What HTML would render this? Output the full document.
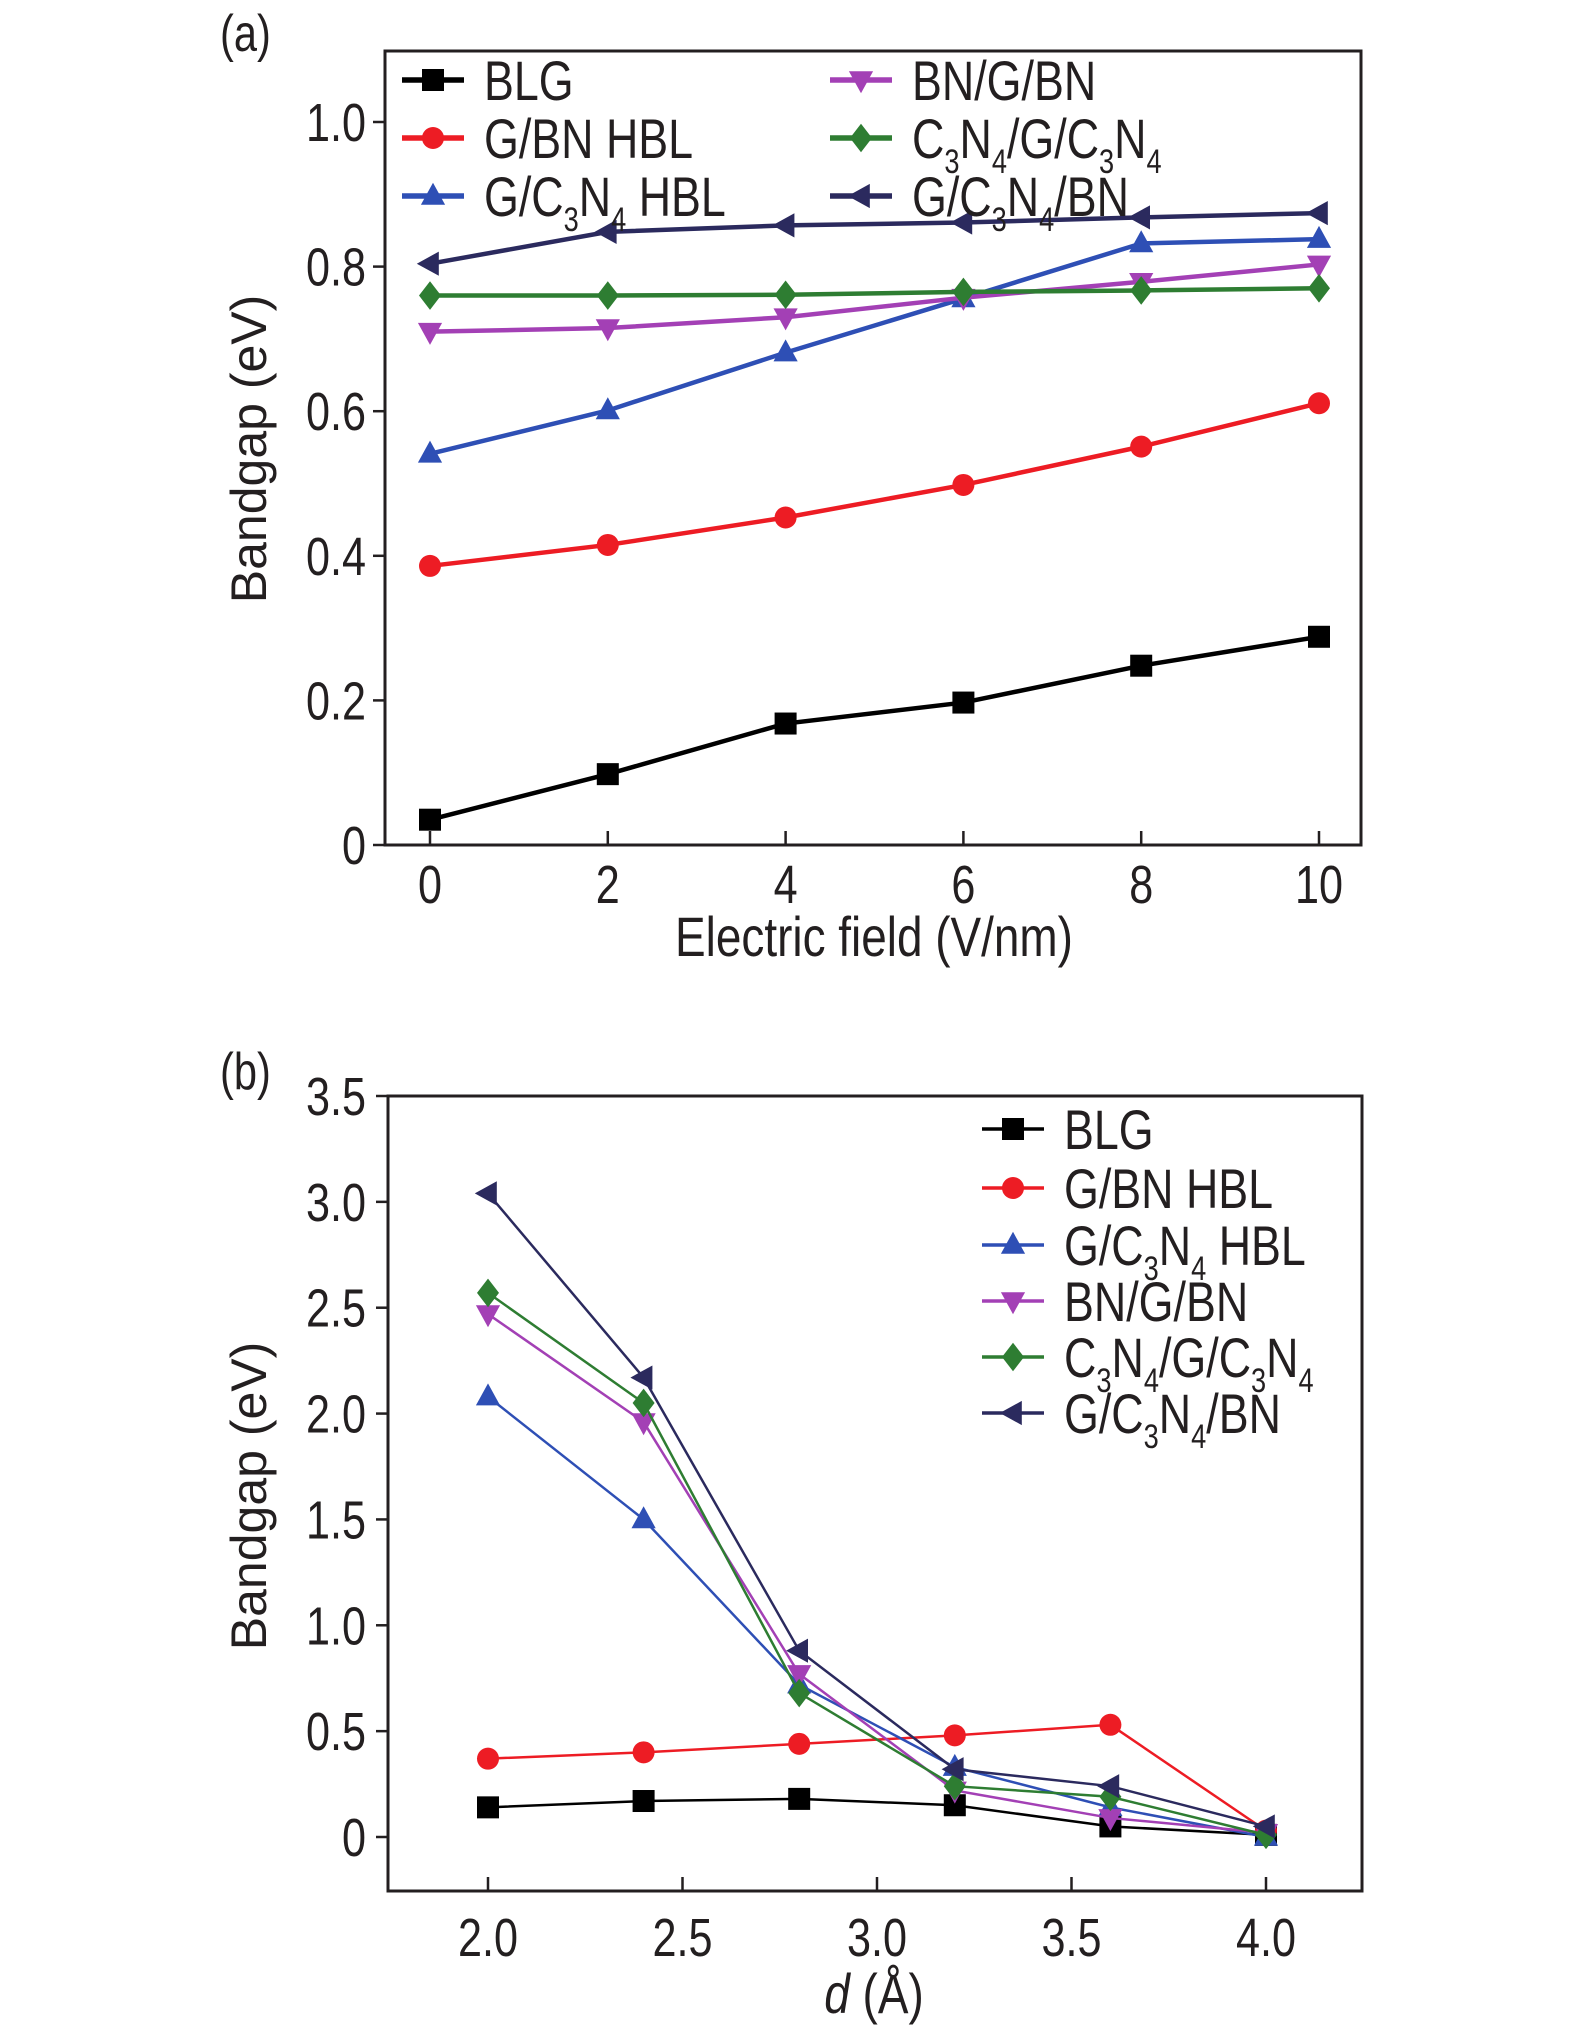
<!DOCTYPE html>
<html><head><meta charset="utf-8"><style>
html,body{margin:0;padding:0;background:#fff}
svg{display:block}
text{font-family:"Liberation Sans",sans-serif;fill:#231f20}
</style></head><body>
<svg id="fig" width="1575" height="2031" viewBox="0 0 1575 2031" xmlns="http://www.w3.org/2000/svg"></svg>
<script>
const NS="http://www.w3.org/2000/svg";
// ---- panel (a) data ----
const fieldX=[0,2,4,6,8,10];
const aBLG=[0.035,0.098,0.168,0.197,0.248,0.288];
const aGBN=[0.386,0.415,0.453,0.498,0.551,0.611];
const aGC3N4=[0.541,0.601,0.681,0.756,0.832,0.838];
const aBNGBN=[0.710,0.715,0.730,0.757,0.779,0.803];
const aC3N4GC3N4=[0.760,0.760,0.761,0.765,0.767,0.770];
const aGC3N4BN=[0.804,0.848,0.857,0.861,0.868,0.874];
const aXTicks=[0,2,4,6,8,10];
const aYTicks=[0,0.2,0.4,0.6,0.8,1.0];
const aYLabels=["0","0.2","0.4","0.6","0.8","1.0"];
// ---- panel (b) data ----
const dX=[2.0,2.4,2.8,3.2,3.6,4.0];
const bBLG=[0.14,0.17,0.18,0.15,0.05,0.01];
const bGBN=[0.37,0.40,0.44,0.48,0.53,0.03];
const bGC3N4=[2.08,1.50,0.72,0.33,0.14,0.00];
const bBNGBN=[2.47,1.96,0.77,0.22,0.09,0.02];
const bC3N4GC3N4=[2.57,2.05,0.68,0.24,0.19,0.01];
const bGC3N4BN=[3.04,2.17,0.88,0.32,0.24,0.05];
const bXTicks=[2.0,2.5,3.0,3.5,4.0];
const bXLabels=["2.0","2.5","3.0","3.5","4.0"];
const bYTicks=[0,0.5,1.0,1.5,2.0,2.5,3.0,3.5];
const bYLabels=["0","0.5","1.0","1.5","2.0","2.5","3.0","3.5"];

const svg=document.getElementById('fig');
function el(tag,attrs,parent){const e=document.createElementNS(NS,tag);for(const k in attrs)e.setAttribute(k,attrs[k]);(parent||svg).appendChild(e);return e;}
function ctext(x,y,str,size,anchor,sx,parent){const t=el('text',{transform:`translate(${x},${y}) scale(${sx},1)`,'font-size':size,'text-anchor':anchor},parent);t.innerHTML=str;return t;}

const colors=["#000000","#ed1c24","#2e4fb5","#a340b5","#2e7d32","#2b2a5e"];
const shapes=["square","circle","up","down","diamond","left"];
const names=["blg","g-bn-hbl","g-c3n4-hbl","bn-g-bn","c3n4-g-c3n4","g-c3n4-bn"];
const labels=["BLG","G/BN HBL","G/C<tspan font-size='34' dy='15'>3</tspan><tspan dy='-15'>N</tspan><tspan font-size='34' dy='15'>4</tspan><tspan dy='-15'> HBL</tspan>","BN/G/BN",
"C<tspan font-size='34' dy='15'>3</tspan><tspan dy='-15'>N</tspan><tspan font-size='34' dy='15'>4</tspan><tspan dy='-15'>/G/C</tspan><tspan font-size='34' dy='15'>3</tspan><tspan dy='-15'>N</tspan><tspan font-size='34' dy='15'>4</tspan>",
"G/C<tspan font-size='34' dy='15'>3</tspan><tspan dy='-15'>N</tspan><tspan font-size='34' dy='15'>4</tspan><tspan dy='-15'>/BN</tspan>"];

function marker(g,shape,x,y,c,s){
  if(shape==="square")return el('rect',{x:x-s,y:y-s,width:2*s,height:2*s,fill:c},g);
  if(shape==="circle")return el('circle',{cx:x,cy:y,r:s,fill:c},g);
  if(shape==="up")return el('polygon',{points:`${x},${y-s*1.2} ${x-s*1.1},${y+s*0.8} ${x+s*1.1},${y+s*0.8}`,fill:c},g);
  if(shape==="down")return el('polygon',{points:`${x},${y+s*1.2} ${x-s*1.1},${y-s*0.8} ${x+s*1.1},${y-s*0.8}`,fill:c},g);
  if(shape==="diamond")return el('polygon',{points:`${x},${y-s*1.3} ${x+s},${y} ${x},${y+s*1.3} ${x-s},${y}`,fill:c},g);
  return el('polygon',{points:`${x-s*1.2},${y} ${x+s*0.8},${y-s*1.1} ${x+s*0.8},${y+s*1.1}`,fill:c},g);
}

function panel(cfg){
  const g=el('g',{});
  
  
  const sx=v=>cfg.px0+(v-cfg.x0)/(cfg.x1-cfg.x0)*(cfg.px1-cfg.px0);
  const sy=v=>cfg.py0+(v-cfg.y0)/(cfg.y1-cfg.y0)*(cfg.py1-cfg.py0);
  const fr=el('rect',{x:cfg.fx0,y:cfg.fy0,width:cfg.fx1-cfg.fx0,height:cfg.fy1-cfg.fy0,fill:'none',stroke:'#231f20','stroke-width':3},g);
  
  cfg.xt.forEach((v,i)=>{const x=sx(v);
    el('line',{x1:x,y1:cfg.fy1,x2:x,y2:cfg.fy1-14,stroke:'#231f20','stroke-width':2.5},g);
    const t=ctext(x,cfg.xlabY,cfg.xl[i],54,'middle',0.8,g);
    });
  cfg.yt.forEach((v,i)=>{const y=sy(v);
    el('line',{x1:cfg.fx0,y1:y,x2:cfg.fx0-12,y2:y,stroke:'#231f20','stroke-width':2.5},g);
    const t=ctext(366,y+19,cfg.yl[i],54,'end',0.8,g);
    });
  cfg.series.forEach((arr,k)=>{
    const sg=el('g',{},g);
    
    
    const pts=arr.map((v,i)=>sx(cfg.xs[i])+','+sy(v)).join(' ');
    el('polyline',{points:pts,fill:'none',stroke:colors[k],'stroke-width':cfg.lw},sg);
    arr.forEach((v,i)=>{const m=marker(sg,shapes[k],sx(cfg.xs[i]),sy(v),colors[k],cfg.ms);
      
      });
  });
  cfg.leg.forEach((p,k)=>{
    const lg=el('g',{},g);
    
    
    el('line',{x1:p[0],y1:p[1],x2:p[0]+62,y2:p[1],stroke:colors[k],'stroke-width':cfg.lw+1},lg);
    marker(lg,shapes[k],p[0]+31,p[1],colors[k],cfg.ms);
    ctext(p[0]+82,p[1]+20,labels[k],56,'start',0.8,lg);
  });
  const yt=el('text',{transform:`translate(266,${cfg.ytitleY}) rotate(-90)`,'font-size':50,'text-anchor':'middle'},g);
  yt.textContent='Bandgap (eV)';
  const xt=ctext(874,cfg.xtitleY,cfg.xtitle,56,'middle',0.82,g);
  
  const pl=ctext(220,cfg.plY,cfg.pl,52,'start',0.8,g);
  
}

panel({name:'panel-a',px0:430,px1:1319,x0:0,x1:10,py0:845,py1:122,y0:0,y1:1.0,
  fx0:385,fx1:1361,fy0:51,fy1:845,xs:fieldX,xt:aXTicks,xl:aXTicks.map(String),xlabY:903,
  yt:aYTicks,yl:aYLabels,series:[aBLG,aGBN,aGC3N4,aBNGBN,aC3N4GC3N4,aGC3N4BN],lw:4.5,ms:11,
  leg:[[402,80],[402,138],[402,196],[830,80],[830,138],[830,196]],
  ytitleY:449,xtitleY:956,xtitle:'Electric field (V/nm)',plY:51,pl:'(a)'});
panel({name:'panel-b',px0:488,px1:1266,x0:2.0,x1:4.0,py0:1837,py1:1096,y0:0,y1:3.5,
  fx0:388,fx1:1362,fy0:1096,fy1:1891,xs:dX,xt:bXTicks,xl:bXLabels,xlabY:1956,
  yt:bYTicks,yl:bYLabels,series:[bBLG,bGBN,bGC3N4,bBNGBN,bC3N4GC3N4,bGC3N4BN],lw:2.5,ms:11,
  leg:[[982,1129],[982,1188],[982,1245],[982,1301],[982,1357],[982,1413]],
  ytitleY:1496,xtitleY:2013,xtitle:'<tspan font-style="italic">d</tspan> (Å)',plY:1089,pl:'(b)'});
</script>
</body></html>
